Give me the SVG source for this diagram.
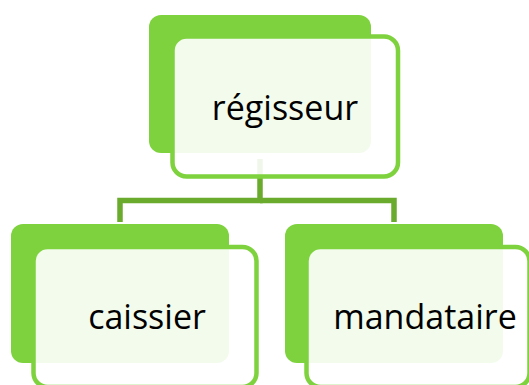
<svg xmlns="http://www.w3.org/2000/svg" width="529" height="385" viewBox="0 0 529 385">
  <style>
    .back { fill: #7ED23E; }
    .front { fill: #FFFFFF; fill-opacity: 0.9; stroke: #7ED23E; stroke-width: 4.5; }
    .conn { fill: none; stroke: #6AAB2E; stroke-width: 5.5; }
    .label { font-family: "Open Sans", "Liberation Sans", sans-serif; font-size: 34px; fill: #000000; text-anchor: middle; }
  </style>
  <rect width="529" height="385" fill="#FFFFFF"/>
  <g id="connectors">
    <path class="conn" d="M260,159 V200.5 H120 V222"/>
    <path class="conn" d="M260,200.5 H394 V222"/>
  </g>
  <g id="node-regisseur">
    <rect class="back" x="149" y="15" width="222" height="138" rx="12"/>
    <rect class="front" x="172.5" y="36.5" width="225.5" height="140" rx="14"/>
    <text class="label" x="285" y="120">régisseur</text>
  </g>
  <g id="node-caissier">
    <rect class="back" x="11" y="224" width="218" height="139" rx="12"/>
    <rect class="front" x="33.5" y="247" width="223" height="140" rx="14"/>
    <text class="label" x="147" y="329">caissier</text>
  </g>
  <g id="node-mandataire">
    <rect class="back" x="285" y="224" width="218" height="139" rx="12"/>
    <rect class="front" x="306.5" y="247" width="223" height="140" rx="14"/>
    <text class="label" x="425" y="329">mandataire</text>
  </g>
</svg>
